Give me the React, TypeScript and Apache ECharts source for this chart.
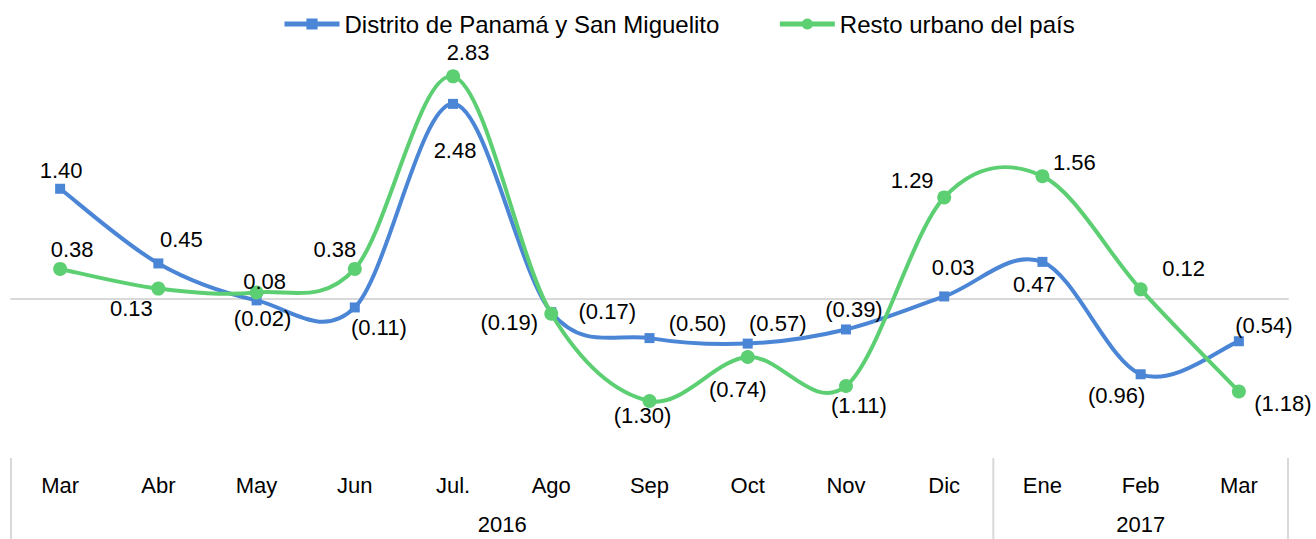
import React, { useEffect, useRef } from "react";
import * as echarts from "echarts";

const months = ["Mar", "Abr", "May", "Jun", "Jul.", "Ago", "Sep", "Oct", "Nov", "Dic", "Ene", "Feb", "Mar"];
const years = ["2016", "2017"];
const yearSpans = [
  [0, 9],
  [10, 12],
];
const seriesNames = ["Distrito de Panamá y San Miguelito", "Resto urbano del país"];
const panama = [1.4, 0.45, -0.02, -0.11, 2.48, -0.17, -0.5, -0.57, -0.39, 0.03, 0.47, -0.96, -0.54];
const resto = [0.38, 0.13, 0.08, 0.38, 2.83, -0.19, -1.3, -0.74, -1.11, 1.29, 1.56, 0.12, -1.18];

// label placement (pixel offsets from each marker), kept apart from the values
const panamaLabelOffsets = [
  [1, -18], [23, -24], [6, 18], [24, 20], [2, 47], [56, -1], [48, -15],
  [30, -20], [8, -20], [9, -29], [-8, 23], [-24, 21], [25, -16],
];
const restoLabelOffsets = [
  [12, -19], [-27, 20], [8, -11], [-20, -19], [15, -24], [-42, 9], [-7, 15],
  [-10, 33], [13, 19], [-32, -17], [32, -14], [43, -21], [44, 12],
];

const Y_MIN = -2;
const Y_MAX = 3;
const BLUE = "#4A85D6";
const GREEN = "#5DCF73";
const FONT = "'Liberation Sans', Arial, sans-serif";

const fmt = (v: number) => (v < 0 ? `(${Math.abs(v).toFixed(2)})` : v.toFixed(2));

// Excel-like smoothed curve (Catmull-Rom converted to cubic Bezier), points via the chart's scales
const makeCurveSeries = (name: string, vals: number[], color: string, z: number) => ({
  name,
  type: "custom",
  z,
  silent: true,
  data: vals.map((v, i) => [i, v]),
  renderItem: (params: any, api: any) => {
    if (params.dataIndex !== 0) return null;
    const pts = vals.map((v, i) => api.coord([i, v]));
    const n = pts.length;
    let d = `M${pts[0][0]},${pts[0][1]}`;
    for (let i = 0; i < n - 1; i++) {
      const p0 = pts[Math.max(0, i - 1)];
      const p1 = pts[i];
      const p2 = pts[i + 1];
      const p3 = pts[Math.min(n - 1, i + 2)];
      const c1x = p1[0] + (p2[0] - p0[0]) / 6;
      const c1y = p1[1] + (p2[1] - p0[1]) / 6;
      const c2x = p2[0] - (p3[0] - p1[0]) / 6;
      const c2y = p2[1] - (p3[1] - p1[1]) / 6;
      d += ` C${c1x},${c1y} ${c2x},${c2y} ${p2[0]},${p2[1]}`;
    }
    return {
      type: "path",
      shape: { pathData: d },
      style: { stroke: color, lineWidth: 4, fill: "none", lineJoin: "round", lineCap: "round" },
    };
  },
});

export default function App() {
  const ref = useRef<HTMLDivElement>(null);

  useEffect(() => {
    if (!ref.current) return;
    const chart = echarts.init(ref.current, undefined, { renderer: "svg" });

    const mkData = (vals: number[], offs: number[][]) =>
      vals.map((v, i) => ({
        value: v,
        label: { offset: offs[i] },
      }));

    const labelBase = {
      show: true,
      position: "inside" as const,
      color: "#000",
      fontSize: 22,
      fontFamily: FONT,
      formatter: (p: any) => fmt(p.value),
    };

    chart.setOption({
      animation: false,
      backgroundColor: "#fff",
      textStyle: { fontFamily: FONT },
      legend: {
        top: 12,
        left: 282,
        padding: 0,
        itemWidth: 55,
        itemHeight: 14,
        itemGap: 58,
        textStyle: { fontSize: 24, color: "#000", fontFamily: FONT },
        data: [
          { name: seriesNames[0], lineStyle: { color: BLUE, width: 5, opacity: 1 } },
          { name: seriesNames[1], lineStyle: { color: GREEN, width: 5, opacity: 1 } },
        ],
      },
      grid: { left: 11, right: 28, top: 63, bottom: 83 },
      xAxis: [
        {
          type: "category",
          data: months,
          boundaryGap: true,
          position: "bottom",
          axisLine: { show: false, onZero: false },
          axisTick: { show: false },
          axisLabel: { color: "#000", fontSize: 22, fontFamily: FONT, margin: 18, interval: 0 },
          splitLine: { show: false },
        },
        {
          type: "category",
          data: months,
          boundaryGap: true,
          position: "bottom",
          axisLine: { show: true, onZero: true, lineStyle: { color: "#d9d9d9", width: 2 } },
          axisTick: { show: false },
          axisLabel: { show: false },
          splitLine: { show: false },
        },
      ],
      yAxis: {
        type: "value",
        min: Y_MIN,
        max: Y_MAX,
        show: false,
        splitLine: { show: false },
      },
      series: [
        makeCurveSeries("panama-curve", panama, BLUE, 2),
        {
          name: seriesNames[0],
          type: "line",
          xAxisIndex: 0,
          data: mkData(panama, panamaLabelOffsets),
          symbol: "rect",
          symbolSize: 10,
          lineStyle: { color: BLUE, width: 4, opacity: 0 },
          itemStyle: { color: BLUE },
          label: labelBase,
          z: 3,
        },
        makeCurveSeries("resto-curve", resto, GREEN, 4),
        {
          name: seriesNames[1],
          type: "line",
          xAxisIndex: 0,
          data: mkData(resto, restoLabelOffsets),
          symbol: "circle",
          symbolSize: 14,
          lineStyle: { color: GREEN, width: 4, opacity: 0 },
          itemStyle: { color: GREEN },
          label: labelBase,
          z: 5,
        },
      ],
    });

    const x0 = chart.convertToPixel({ xAxisIndex: 0 }, 0) as number;
    const x1 = chart.convertToPixel({ xAxisIndex: 0 }, 1) as number;
    const band = x1 - x0;
    const yb = chart.convertToPixel({ yAxisIndex: 0 }, Y_MIN) as number;
    const H = 539;

    const edges: number[] = [];
    yearSpans.forEach(([s]) => edges.push(x0 + (s - 0.5) * band));
    edges.push(x0 + (yearSpans[yearSpans.length - 1][1] + 0.5) * band);

    const graphics: any[] = [];
    edges.forEach((x) =>
      graphics.push({
        type: "line",
        shape: { x1: x, y1: yb + 2, x2: x, y2: H },
        style: { stroke: "#d9d9d9", lineWidth: 2 },
        silent: true,
      })
    );
    yearSpans.forEach(([s, e], i) =>
      graphics.push({
        type: "text",
        x: x0 + ((s + e) / 2) * band,
        y: yb + 68,
        style: {
          text: years[i],
          fill: "#000",
          font: `22px ${FONT}`,
          align: "center",
          verticalAlign: "middle",
        },
        silent: true,
      })
    );
    chart.setOption({ graphic: graphics });

    return () => chart.dispose();
  }, []);

  return (
    <div
      ref={ref}
      style={{ position: "absolute", left: 0, top: 0, width: 1316, height: 539, background: "#fff" }}
    />
  );
}
